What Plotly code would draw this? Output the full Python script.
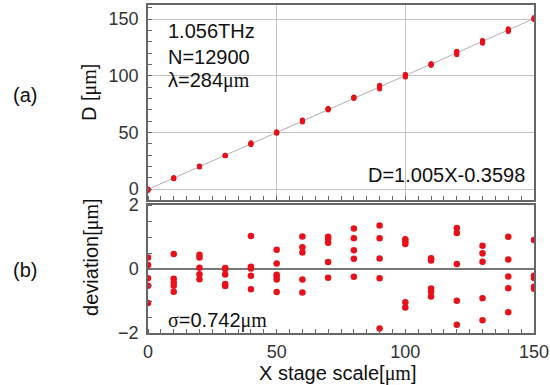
import plotly.graph_objects as go

# ---- data ----
stage_x = [0, 10, 20, 30, 40, 50, 60, 70, 80, 90, 100, 110, 120, 130, 140, 150]

# measured D values [um] at each stage position
d_values = [
    [0.0, -0.2, -0.7, -0.9, -1.4],
    [10.2, 9.4, 9.3, 9.2, 9.0],
    [20.2, 20.1, 19.8, 19.6, 19.4],
    [29.8, 29.8, 29.6, 29.3, 29.3],
    [40.9, 39.9, 39.9, 39.6, 39.2],
    [50.5, 50.1, 49.7, 49.7, 49.6, 49.2],
    [61.0, 60.6, 60.5, 59.6, 59.2],
    [71.0, 70.9, 70.8, 70.2, 69.7],
    [81.3, 81.0, 80.6, 80.4, 79.8],
    [91.5, 91.1, 90.4, 89.8, 88.2],
    [101.1, 101.0, 100.9, 99.1, 98.9],
    [110.5, 110.5, 109.6, 109.5, 109.3],
    [121.5, 121.4, 120.4, 119.3, 118.5],
    [131.0, 130.8, 130.5, 129.4, 128.7],
    [141.4, 140.6, 140.1, 139.7, 139.0],
    [151.3, 150.2, 150.1, 149.8, 149.8],
]

# deviation from linear fit [um]
deviations = [
    [0.36, 0.125, -0.29, -0.52, -1.06],
    [0.47, -0.30, -0.42, -0.52, -0.71],
    [0.45, 0.36, 0.04, -0.16, -0.32],
    [0.03, 0.0, -0.17, -0.47, -0.53],
    [1.03, 0.07, 0.02, -0.21, -0.63],
    [0.60, 0.17, -0.18, -0.24, -0.33, -0.72],
    [1.02, 0.68, 0.52, -0.33, -0.73],
    [1.01, 0.95, 0.82, 0.22, -0.27],
    [1.27, 0.96, 0.59, 0.32, -0.24],
    [1.36, 0.96, 0.33, -0.29, -1.86],
    [0.93, 0.85, 0.78, -1.04, -1.20],
    [0.34, 0.27, -0.61, -0.70, -0.86],
    [1.28, 1.13, 0.16, -0.99, -1.74],
    [0.73, 0.49, 0.23, -0.91, -1.60],
    [1.01, 0.30, -0.23, -0.60, -1.35],
    [0.91, -0.21, -0.28, -0.55, -0.62],
]

# linear fit line end points (D = 1.005X - 0.3598)
fit_x = [0, 150]
fit_d = [-0.36, 150.39]

x_ticks = [0, 50, 100, 150]
d_ticks = [0, 50, 100, 150]
dev_ticks = [-2, 0, 2]

# ---- build flat arrays ----
top_x, top_y = [], []
for xv, ds in zip(stage_x, d_values):
    for d in ds:
        top_x.append(xv)
        top_y.append(d)
bot_x, bot_y = [], []
for xv, ds in zip(stage_x, deviations):
    for d in ds:
        bot_x.append(xv)
        bot_y.append(d)

RED = "#e8101a"
FRAME = "#666666"
MU = "<span style='font-family:Liberation Serif'>μm</span>"

fig = go.Figure()
fig.add_trace(go.Scatter(x=fit_x, y=fit_d, mode="lines",
                         line=dict(color="#b0b0b0", width=1),
                         xaxis="x", yaxis="y", showlegend=False, hoverinfo="skip"))
fig.add_trace(go.Scatter(x=top_x, y=top_y, mode="markers",
                         marker=dict(color=RED, size=5),
                         xaxis="x", yaxis="y", showlegend=False))
fig.add_trace(go.Scatter(x=bot_x, y=bot_y, mode="markers",
                         marker=dict(color=RED, size=6.5),
                         xaxis="x2", yaxis="y2", showlegend=False))

tickfont = dict(family="Liberation Sans", size=18, color="#333333")

fig.update_layout(
    width=550, height=385,
    margin=dict(l=148, r=16, t=5, b=52),
    paper_bgcolor="white", plot_bgcolor="white",
    font=dict(family="Liberation Sans", color="#111111"),
    xaxis=dict(domain=[0, 1], range=[0, 150], anchor="y", automargin=False,
               showticklabels=False, tickvals=x_ticks, ticks="",
               showgrid=True, gridcolor="#c4c4c4", gridwidth=1,
               showline=True, linecolor=FRAME, linewidth=1.5, mirror=True,
               zeroline=False,
               minor=dict(dtick=5, ticks="inside", ticklen=4, tickcolor=FRAME, showgrid=False)),
    yaxis=dict(domain=[0.4055, 1], range=[-9.7, 162.4], anchor="x", automargin=False,
               tickvals=d_ticks, tickfont=tickfont, ticks="", ticklabelstandoff=4,
               showgrid=True, gridcolor="#c4c4c4", gridwidth=1,
               showline=True, linecolor=FRAME, linewidth=1.5, mirror=True,
               zeroline=False,
               minor=dict(dtick=10, ticks="inside", ticklen=4, tickcolor=FRAME, showgrid=False)),
    xaxis2=dict(domain=[0, 1], range=[0, 150], anchor="y2", automargin=False,
                tickvals=x_ticks, tickfont=tickfont, ticks="", ticklabelstandoff=2,
                showgrid=False,
                showline=True, linecolor=FRAME, linewidth=1.5, mirror=True,
                zeroline=False,
                minor=dict(dtick=5, ticks="inside", ticklen=4, tickcolor=FRAME, showgrid=False)),
    yaxis2=dict(domain=[0, 0.390], range=[-2, 2], anchor="x2", automargin=False,
                tickvals=dev_ticks, tickfont=tickfont, ticks="", ticklabelstandoff=4,
                showgrid=False,
                showline=True, linecolor=FRAME, linewidth=1.5, mirror=True,
                zeroline=True, zerolinecolor="#777777", zerolinewidth=1.5,
                minor=dict(dtick=0.5, ticks="inside", ticklen=4, tickcolor=FRAME, showgrid=False)),
)

ann_font = dict(family="Liberation Sans", size=20, color="#111111")
annotations = [
    dict(text="1.056THz", x=6.8, y=139.4, xref="x", yref="y", xanchor="left", yanchor="middle",
         showarrow=False, font=ann_font),
    dict(text="N=12900", x=6.8, y=116.5, xref="x", yref="y", xanchor="left", yanchor="middle",
         showarrow=False, font=ann_font),
    dict(text="λ=284" + MU, x=6.8, y=96, xref="x", yref="y", xanchor="left", yanchor="middle",
         showarrow=False, font=ann_font),
    dict(text="D=1.005X-0.3598", x=147.1, y=12.4, xref="x", yref="y", xanchor="right", yanchor="middle",
         showarrow=False, font=ann_font),
    dict(text="<span style='font-family:Liberation Serif'>σ</span>=0.742" + MU, x=6.8, y=-1.6,
         xref="x2", yref="y2", xanchor="left", yanchor="middle", showarrow=False, font=ann_font),
    dict(text="X stage scale[" + MU + "]", x=0.49, y=-0.122, xref="paper", yref="paper",
         xanchor="center", yanchor="middle", showarrow=False, font=ann_font),
    dict(text="D [" + MU + "]", x=-0.150, y=0.732, xref="paper", yref="paper",
         xanchor="center", yanchor="middle", textangle=-90, showarrow=False, font=ann_font),
    dict(text="deviation[" + MU + "]", x=-0.145, y=0.229, xref="paper", yref="paper",
         xanchor="center", yanchor="middle", textangle=-90, showarrow=False, font=ann_font),
    dict(text="(a)", x=-0.319, y=0.726, xref="paper", yref="paper",
         xanchor="center", yanchor="middle", showarrow=False, font=ann_font),
    dict(text="(b)", x=-0.319, y=0.192, xref="paper", yref="paper",
         xanchor="center", yanchor="middle", showarrow=False, font=ann_font),
]
fig.update_layout(annotations=annotations)

fig.write_html("out.html", config={"displayModeBar": False},
               post_script="document.body.style.margin='0px';document.body.style.overflow='hidden';")
